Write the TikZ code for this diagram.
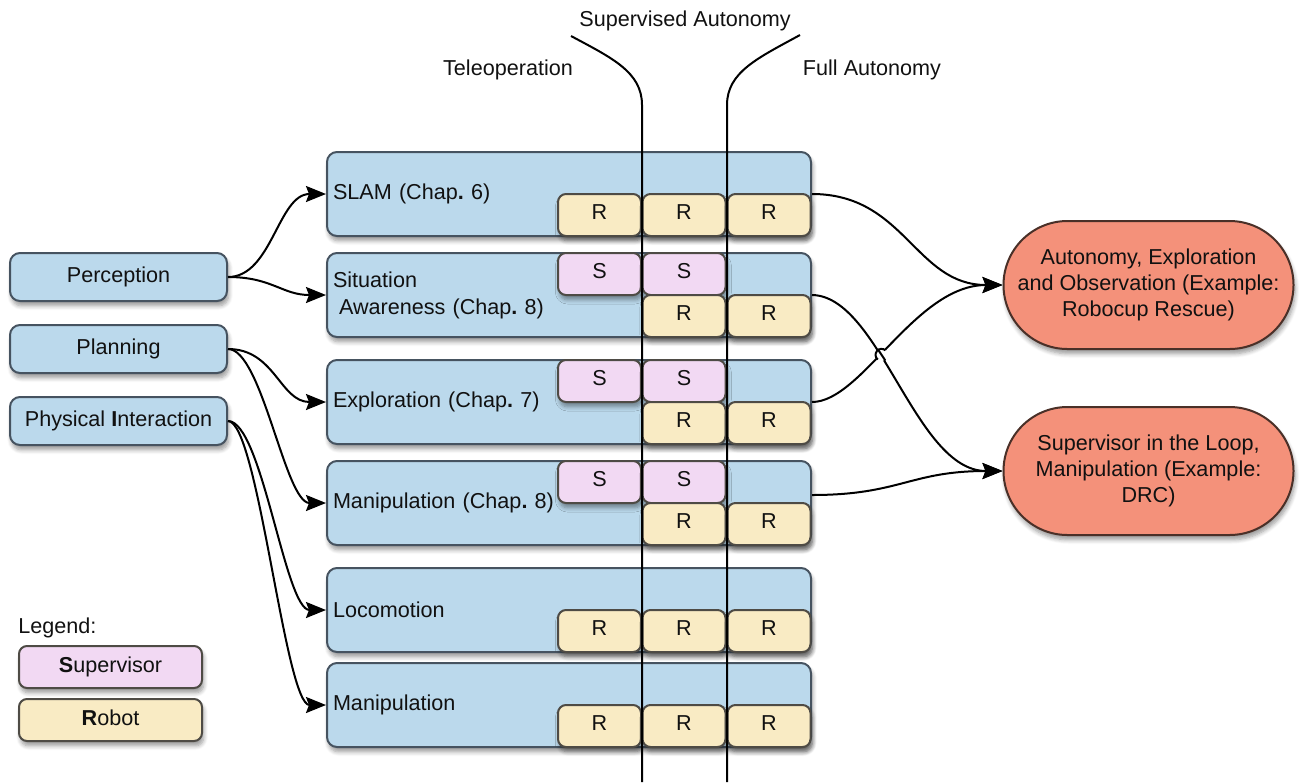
\documentclass[tikz,border=0pt]{standalone}
\usepackage{fontspec}
\setmainfont{Liberation Sans}
\usetikzlibrary{arrows.meta,shapes.misc,shadows.blur,calc,intersections}

\definecolor{boxblue}{HTML}{BBD9EC}
\definecolor{boxedge}{HTML}{465360}
\definecolor{suppink}{HTML}{F2D9F3}
\definecolor{robyellow}{HTML}{F9EBC4}
\definecolor{smalledge}{HTML}{4E4B45}
\definecolor{goalred}{HTML}{F4917A}
\definecolor{goaledge}{HTML}{4A3028}
\definecolor{ink}{HTML}{111111}

\tikzset{
  shade/.style={blur shadow={shadow xshift=0.8pt, shadow yshift=-2.4pt, shadow blur steps=6, shadow opacity=40}},
  base/.style={draw=boxedge, line width=1pt, text=ink, inner sep=0pt,
    font=\fontsize{10.8}{13}\selectfont},
  srcbox/.style={base, shade, fill=boxblue, rounded corners=5pt,
    minimum width=108.5pt, minimum height=24pt},
  lane/.style={base, shade, fill=boxblue, rounded corners=5pt,
    minimum width=242pt, minimum height=42pt, text width=236pt, align=left,
    font=\fontsize{10.8}{13.5}\selectfont},
  supbox/.style={base, shade, draw=smalledge, fill=suppink, rounded corners=4pt,
    minimum width=41.5pt, minimum height=21pt, text depth=3pt},
  robbox/.style={supbox, fill=robyellow},
  keybox/.style={supbox, minimum width=91.5pt, text depth=2pt},
  goal/.style={base, shade, draw=goaledge, fill=goalred, rounded rectangle,
    minimum width=145pt, minimum height=64pt, align=center},
  conn/.style={line width=1pt, draw=black, -{Stealth[length=10pt,width=8pt,inset=1.5pt]}},
  plainline/.style={line width=1pt, draw=black},
  caption/.style={text=ink, inner sep=0pt, font=\fontsize{10.8}{13}\selectfont}
}

\newcommand{\chp}[1]{(Chap\textbf{.}\ #1)}

\begin{document}
\begin{tikzpicture}[x=0.5pt,y=-0.5pt]
\useasboundingbox (0,0) rectangle (1300,782);

% mode captions
\node[caption] (supcap) at (685,21) {Supervised Autonomy};
\node[caption] (telecap) at (508,70) {Teleoperation};
\node[caption] (fullcap) at (872,70) {Full Autonomy};

% capability groups
\node[srcbox] (perc) at (118.5,277) {Perception};
\node[srcbox] (plan) at (118.5,349) {Planning};
\node[srcbox] (phys) at (118.5,421) {Physical \textbf{I}nteraction};

% legend
\node[caption, anchor=west] (legend) at (18,628) {Legend:};
\node[keybox] (keys) at (110.5,667) {\textbf{S}upervisor};
\node[keybox, fill=robyellow] (keyr) at (110.5,720) {\textbf{R}obot};

% task lanes
\node[lane] (slam) at (569,194) {SLAM \chp{6}};
\node[lane] (sit)  at (569,295) {Situation\\\hspace*{3pt}Awareness \chp{8}};
\node[lane] (expl) at (569,402) {Exploration \chp{7}};
\node[lane] (manc) at (569,503) {Manipulation \chp{8}};
\node[lane] (loco) at (569,610) {Locomotion};
\node[lane] (mani) at (569,705) {Manipulation};

% supervisor / robot cells
\node[robbox] (slamr1) at (599.5,215) {R};
\node[robbox] (slamr2) at (684,215) {R};
\node[robbox] (slamr3) at (769,215) {R};

\node[supbox] (sits1) at (599.5,274) {S};
\node[supbox] (sits2) at (684,274) {S};
\node[robbox] (sitr2) at (684,316) {R};
\node[robbox] (sitr3) at (769,316) {R};

\node[supbox] (exps1) at (599.5,381) {S};
\node[supbox] (exps2) at (684,381) {S};
\node[robbox] (expr2) at (684,423) {R};
\node[robbox] (expr3) at (769,423) {R};

\node[supbox] (mans1) at (599.5,482) {S};
\node[supbox] (mans2) at (684,482) {S};
\node[robbox] (manr2) at (684,524) {R};
\node[robbox] (manr3) at (769,524) {R};

\node[robbox] (locor1) at (599.5,631) {R};
\node[robbox] (locor2) at (684,631) {R};
\node[robbox] (locor3) at (769,631) {R};

\node[robbox] (manir1) at (599.5,726) {R};
\node[robbox] (manir2) at (684,726) {R};
\node[robbox] (manir3) at (769,726) {R};

% outcome scenarios
\node[goal] (auto) at (1148.5,285) {Autonomy, Exploration\\and Observation (Example:\\Robocup Rescue)};
\node[goal] (loop) at (1148.5,471) {Supervisor in the Loop,\\Manipulation (Example:\\DRC)};

% groups to lanes
\draw[conn] (perc.east) .. controls (272,277) and (278,194) .. (slam.west);
\draw[conn] (perc.east) .. controls (272,277) and (282,295) .. (sit.west);
\draw[conn] (plan.east) .. controls (275,349) and (280,402) .. (expl.west);
\draw[conn] (plan.east) .. controls (262,349) and (285,503) .. (manc.west);
\draw[conn] (phys.east) .. controls (262,421) and (285,610) .. (loco.west);
\draw[conn] (phys.east) .. controls (258,421) and (285,705) .. (mani.west);

% lanes to scenarios
\draw[conn] (slam.east) .. controls (905,194) and (915,285) .. (auto.west);
\draw[conn, name path=sitline] (sit.east) .. controls (880,296) and (915,471) .. (loop.west);
\draw[conn, name path=expline] (expl.east) .. controls (862,402) and (915,285) .. (auto.west);
\draw[conn] ($(manc.east)+(0,-8)$) .. controls (900,495) and (910,471) .. (loop.west);

% line jump where the exploration link passes over the awareness link
\path[name intersections={of=sitline and expline, by=hop}];
\fill[white] (hop) circle[radius=3pt];
\begin{scope}
  \clip (hop) circle[radius=3.5pt];
  \draw[plainline] (sit.east) .. controls (880,296) and (915,471) .. (loop.west);
\end{scope}
\draw[plainline] (hop) ++(231:3pt) arc[start angle=231, end angle=51, radius=3pt];

% autonomy mode dividers
\draw[plainline] (642,782) -- (642,105) .. controls (642,72) and (612,58) .. (571,36);
\draw[plainline] (727,782) -- (727,105) .. controls (727,72) and (758,58) .. (800,35);
\end{tikzpicture}
\end{document}
